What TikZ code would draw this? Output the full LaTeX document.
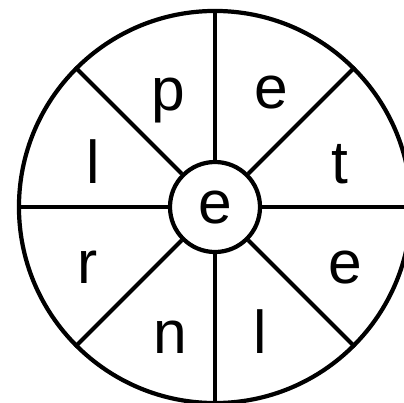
\documentclass[tikz,border=0pt]{standalone}
\usepackage{fontspec}
\setmainfont{Liberation Sans}
\usepackage{tikz}

\begin{document}
\begin{tikzpicture}[x=0.025cm,y=-0.025cm,
    ring/.style={circle,draw,line width=3pt,inner sep=0pt},
    letter/.style={anchor=base,inner sep=0pt,font=\fontsize{43}{43}\selectfont}]
    \useasboundingbox (0,0) rectangle (404,403);
    \node[ring,minimum size=9.8cm] (rim) at (215,207) {};
    \node[ring,minimum size=2.25cm] (hub) at (215,207) {};

    \foreach \a in {0,45,...,315}
      \draw[line width=3pt] (hub.\a) -- (rim.\a);

    \node[letter] (c) at (215,223) {e};
    \node[letter] (p) at (168,110) {p};
    \node[letter] (e1) at (271,108) {e};
    \node[letter] (t) at (340,183) {t};
    \node[letter] (e2) at (345,283) {e};
    \node[letter] (l1) at (260,353) {l};
    \node[letter] (n) at (170,353) {n};
    \node[letter] (r) at (88,283) {r};
    \node[letter] (l2) at (93,183) {l};
\end{tikzpicture}
\end{document}
